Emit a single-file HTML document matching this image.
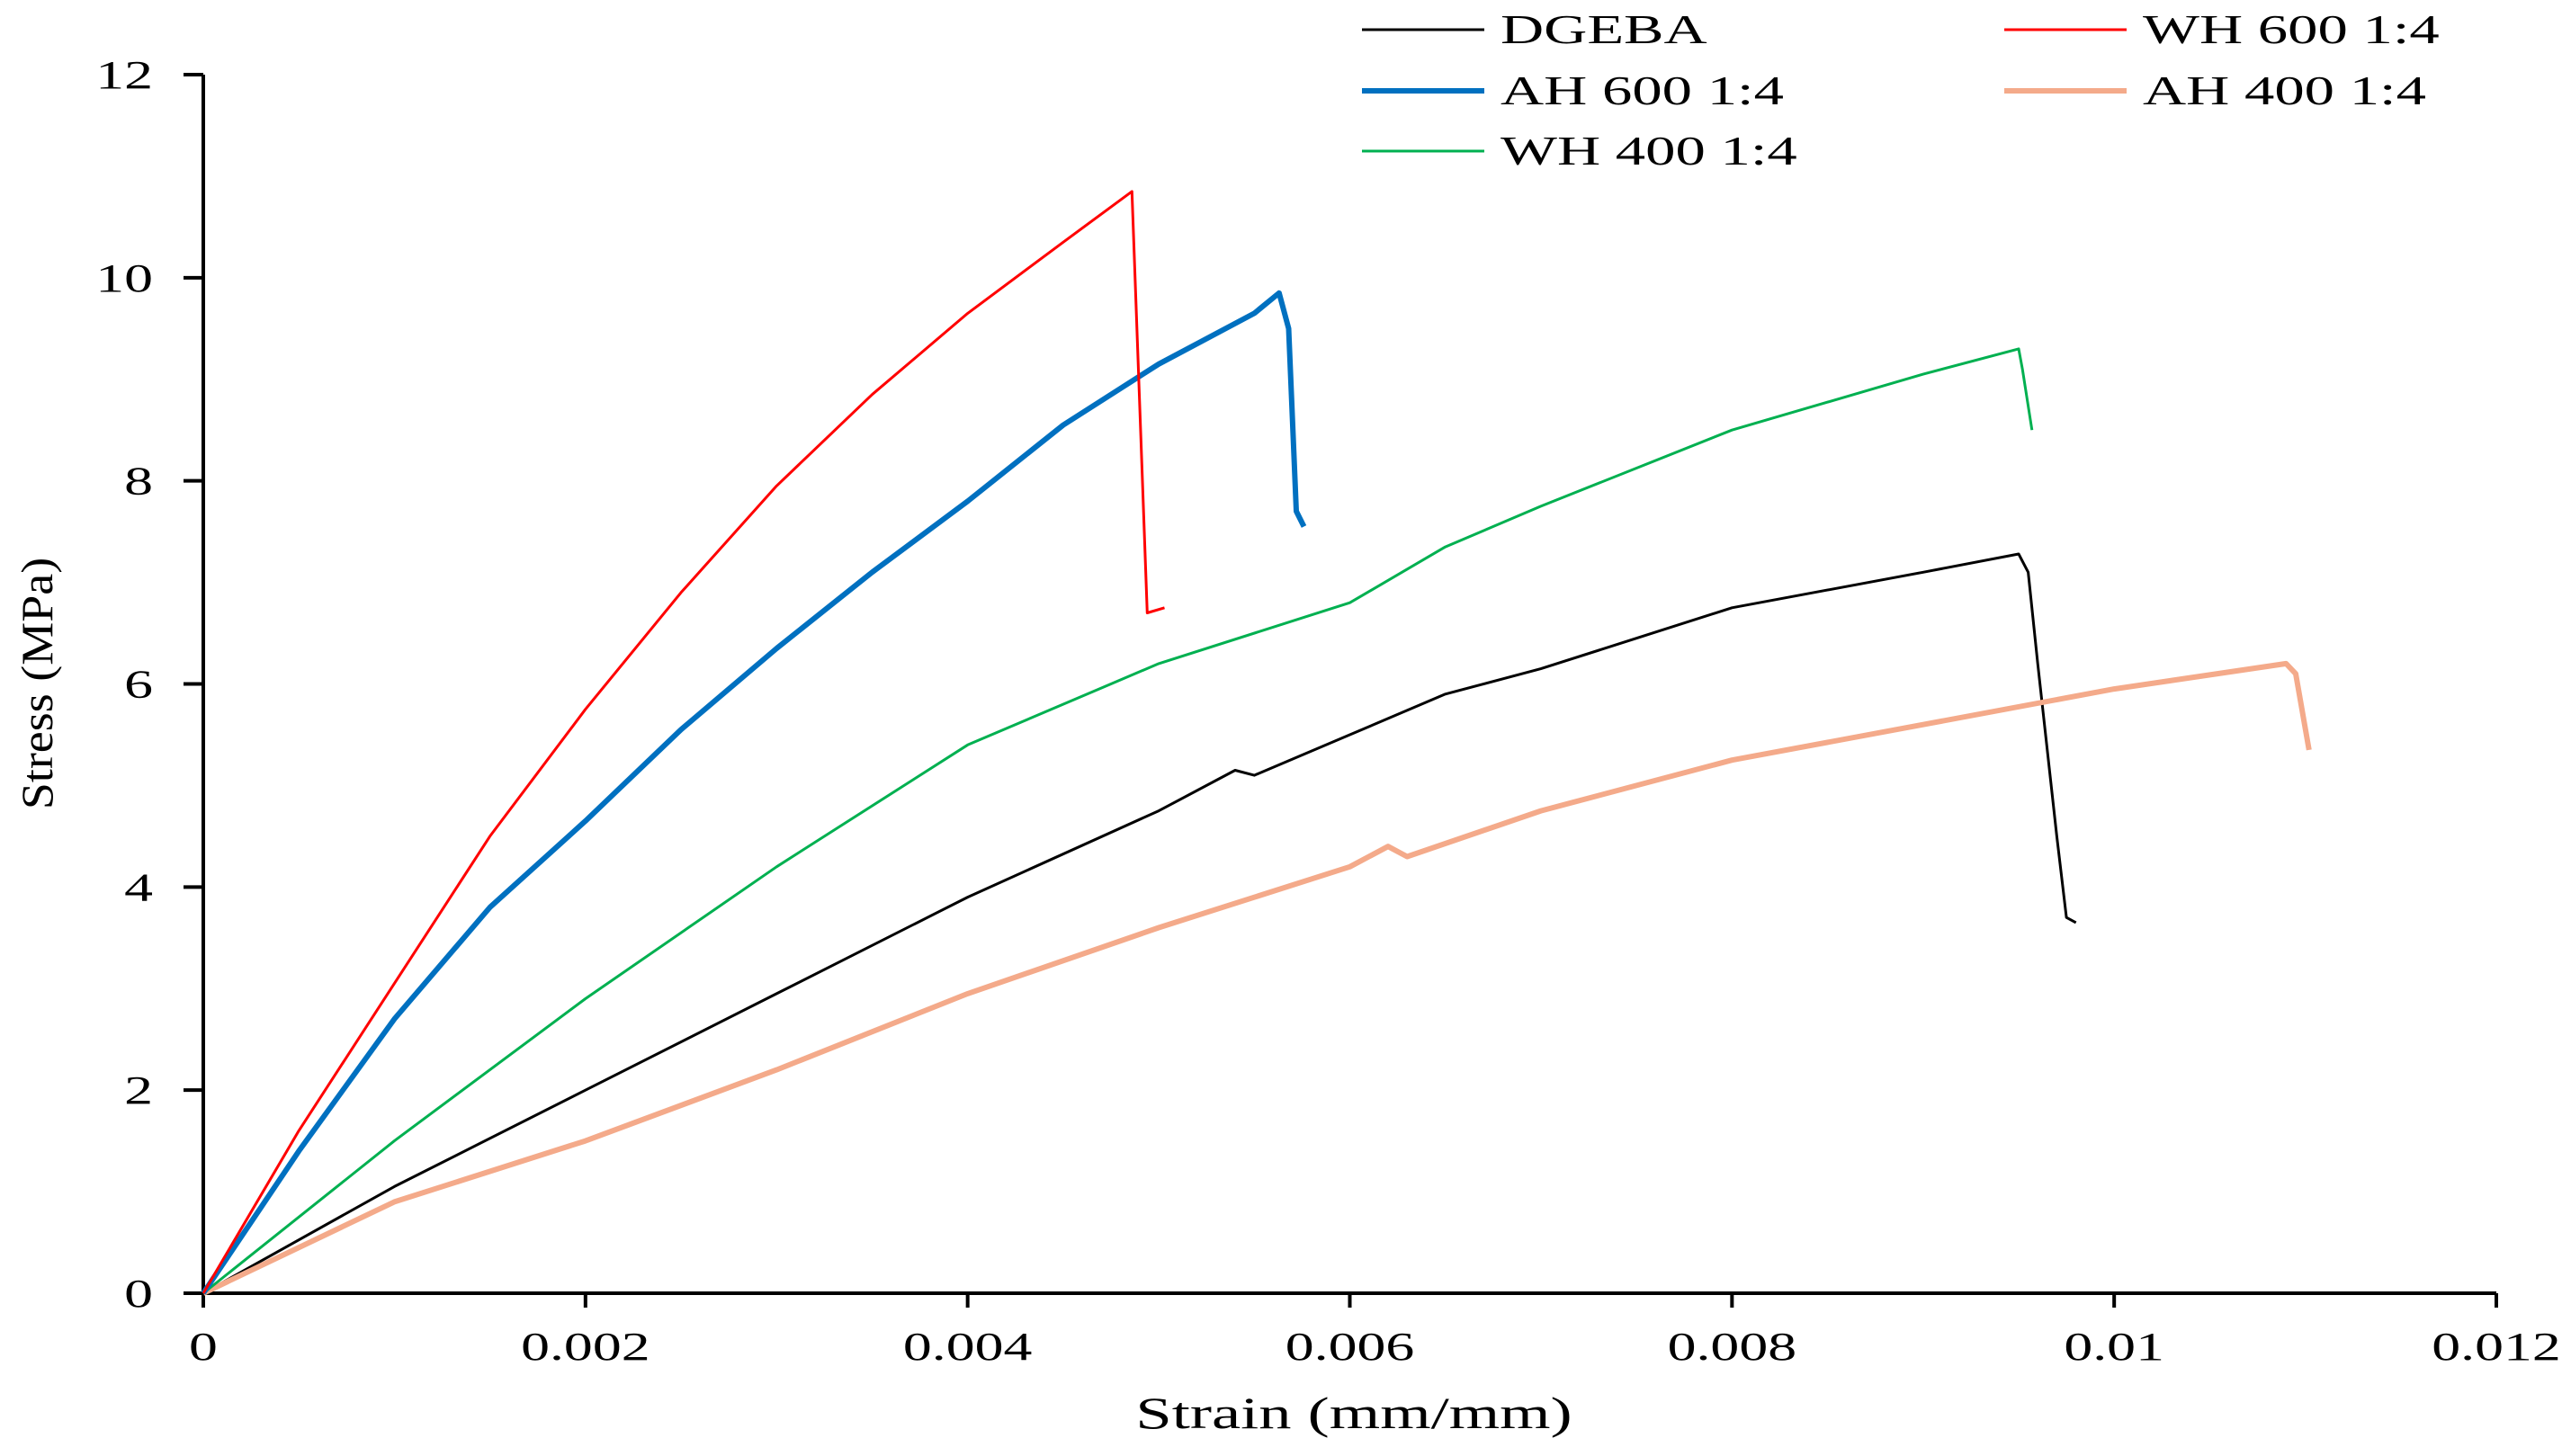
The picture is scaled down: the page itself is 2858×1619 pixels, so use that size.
<!DOCTYPE html>
<html><head><meta charset="utf-8"><style>
html,body{margin:0;padding:0;background:#fff;}
svg{display:block;font-family:"Liberation Serif",serif;}
</style></head><body>
<svg id="chart" width="2858" height="1619" viewBox="0 0 2858 1619" xmlns="http://www.w3.org/2000/svg">
<g id="axes"></g><g id="series"></g><g id="legend"></g>
</svg>
<script>
const xTicks=[0,0.002,0.004,0.006,0.008,0.01,0.012];
const xTickLabels=["0","0.002","0.004","0.006","0.008","0.01","0.012"];
const yTicks=[0,2,4,6,8,10,12];
const yTickLabels=["0","2","4","6","8","10","12"];
const seriesNames=["DGEBA","WH 600 1:4","AH 600 1:4","AH 400 1:4","WH 400 1:4"];
const dgebaStrain=[0,0.001,0.002,0.003,0.004,0.005,0.0054,0.0055,0.006,0.0065,0.007,0.0075,0.008,0.009,0.0095,0.00955,0.0096,0.0097,0.00975,0.0098];
const dgebaStress=[0,1.05,2.0,2.95,3.9,4.75,5.15,5.1,5.5,5.9,6.15,6.45,6.75,7.1,7.28,7.1,6.2,4.5,3.7,3.65];
const wh600Strain=[0,0.0005,0.001,0.0015,0.002,0.0025,0.003,0.0035,0.004,0.0045,0.00486,0.00494,0.00503];
const wh600Stress=[0,1.6,3.05,4.5,5.75,6.9,7.95,8.85,9.65,10.35,10.85,6.7,6.75];
const ah600Strain=[0,0.0005,0.001,0.0015,0.002,0.0025,0.003,0.0035,0.004,0.0045,0.005,0.0055,0.00563,0.00568,0.00572,0.00576];
const ah600Stress=[0,1.4,2.7,3.8,4.65,5.55,6.35,7.1,7.8,8.55,9.15,9.65,9.85,9.5,7.7,7.55];
const ah400Strain=[0,0.001,0.002,0.003,0.004,0.005,0.006,0.0062,0.0063,0.007,0.008,0.009,0.01,0.0109,0.01095,0.01102];
const ah400Stress=[0,0.9,1.5,2.2,2.95,3.6,4.2,4.4,4.3,4.75,5.25,5.6,5.95,6.2,6.1,5.35];
const wh400Strain=[0,0.001,0.002,0.003,0.004,0.005,0.006,0.0065,0.007,0.008,0.009,0.0095,0.00952,0.00957];
const wh400Stress=[0,1.5,2.9,4.2,5.4,6.2,6.8,7.35,7.75,8.5,9.05,9.3,9.1,8.5];

const X0=226,X1=2775,Y0=1438,Y1=83;
const SX=1.45;
function xs(v){return X0+(v-0)/(0.012-0)*(X1-X0);}
function ys(v){return Y0-(v-0)/(12-0)*(Y0-Y1);}
const NS="http://www.w3.org/2000/svg";
function mk(tag,attrs,parent,text){const e=document.createElementNS(NS,tag);for(const k in attrs)e.setAttribute(k,attrs[k]);if(text!==undefined)e.textContent=text;parent.appendChild(e);return e;}
function wtext(x,y,anchor,size,str,parent){
  return mk('text',{x:0,y:0,'text-anchor':anchor,'font-size':size,transform:'translate('+x+','+y+') scale('+SX+',1)'},parent,str);
}
const axes=document.getElementById('axes');
let e=mk('line',{x1:X0,y1:Y0,x2:X0,y2:Y1,stroke:'#000','stroke-width':4},axes);


e=mk('line',{x1:X0,y1:Y0,x2:X1,y2:Y0,stroke:'#000','stroke-width':4},axes);


yTicks.forEach((t,i)=>{
  mk('line',{x1:X0-22,y1:ys(t),x2:X0,y2:ys(t),stroke:'#000','stroke-width':4},axes);
  const l=wtext(170,ys(t)+15,'end',44,yTickLabels[i],axes);
  
  
});
xTicks.forEach((t,i)=>{
  mk('line',{x1:xs(t),y1:Y0,x2:xs(t),y2:Y0+16,stroke:'#000','stroke-width':4},axes);
  const l=wtext(xs(t),1512,'middle',44,xTickLabels[i],axes);
  
  
});
e=wtext(1505,1588,'middle',50,'Strain (mm/mm)',axes);


e=mk('text',{x:0,y:0,'text-anchor':'middle','font-size':50,transform:'translate(58,760) rotate(-90) scale(1.08,1)'},axes,'Stress (MPa)');



const ser=document.getElementById('series');
const defs=[
 [dgebaStrain,dgebaStress,'#000000',3,'dgeba-line'],
 [ah400Strain,ah400Stress,'#f4aa8a',6,'ah400-line'],
 [wh400Strain,wh400Stress,'#00b050',3,'wh400-line'],
 [ah600Strain,ah600Stress,'#0070c0',6,'ah600-line'],
 [wh600Strain,wh600Stress,'#ff0000',3,'wh600-line']
];
defs.forEach(d=>{
  const pts=d[0].map((x,i)=>xs(x).toFixed(1)+','+ys(d[1][i]).toFixed(1)).join(' ');
  const p=mk('polyline',{points:pts,fill:'none',stroke:d[2],'stroke-width':d[3],'stroke-linejoin':'round'},ser);
  
  
});

const leg=document.getElementById('legend');
const legItems=[
 [1514,33,'#000000',3,0],[2228,33,'#ff0000',3,1],
 [1514,101,'#0070c0',6,2],[2228,101,'#f4aa8a',6,3],
 [1514,168,'#00b050',3,4]
];
legItems.forEach(it=>{
  const g=mk('g',{},leg);
  
  
  mk('line',{x1:it[0],y1:it[1],x2:it[0]+136,y2:it[1],stroke:it[2],'stroke-width':it[3]},g);
  wtext(it[0]+154,it[1]+15,'start',46,seriesNames[it[4]],g);
});
</script>
</body></html>
